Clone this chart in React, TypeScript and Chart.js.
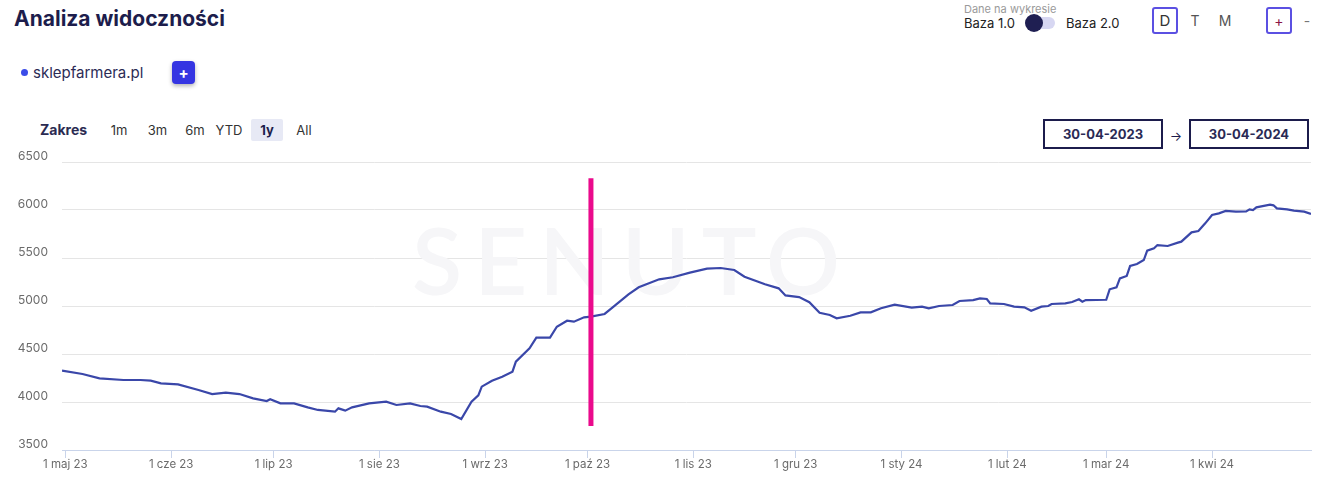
import React, { useEffect, useRef } from "react";
import { Chart, registerables } from "chart.js";

Chart.register(...registerables);

// Day index counted from 30-04-2023 (day 0) to 30-04-2024 (day 366)
const DAYS = [
  0, 6, 11, 18, 23, 26, 29, 34, 40, 44, 48, 52, 56, 60, 61, 64, 68, 72, 75, 80, 81, 83, 85, 90, 95, 98, 102, 105, 107, 111, 114, 117,
  120, 122, 123, 126, 129, 132, 133, 137, 139, 143, 145, 148, 150, 153, 155, 159, 161, 166, 169, 172, 175, 179, 184, 189, 193, 197,
  200, 206, 210, 212, 216, 219, 222, 225, 227, 231, 234, 237, 240, 244, 249, 252, 254, 257, 261, 263, 267, 269, 271, 272, 276, 279,
  282, 284, 287, 289, 290, 294, 296, 298, 299, 300, 306, 307, 309, 310, 312, 313, 315, 317, 318, 320, 321, 324, 327, 328, 331, 333,
  335, 337, 339, 341, 344, 347, 348, 349, 350, 354, 355, 356, 359, 361, 364, 366,
];
const VISIBILITY = [
  4326, 4292, 4247, 4229, 4229, 4222, 4194, 4184, 4125, 4083, 4097, 4083, 4038, 4010, 4028, 3986, 3986, 3944, 3917, 3899, 3934, 3910,
  3944, 3986, 4003, 3969, 3986, 3958, 3951, 3899, 3875, 3823,
  4003, 4070, 4160, 4222, 4264, 4316, 4420, 4559, 4670, 4670, 4784, 4847, 4837, 4882, 4889, 4917, 4976, 5122, 5195, 5236, 5278, 5299,
  5347, 5389, 5396, 5375,
  5305, 5226, 5184, 5110, 5093, 5040, 4930, 4906, 4872, 4898, 4934, 4934, 4976, 5014, 4983, 4993, 4976, 5000, 5010, 5052, 5062, 5080,
  5073, 5028, 5021, 4993,
  4986, 4951, 4993, 5000, 5021, 5028, 5042, 5070, 5045, 5062, 5065, 5174, 5195, 5288, 5313, 5417, 5438, 5479, 5576, 5601, 5635, 5625,
  5660, 5670, 5767, 5781,
  5861, 5948, 5965, 5990, 5983, 5986, 6007, 6000, 6028, 6056, 6049, 6017, 6007, 5993, 5983, 5958,
];

const MONTH_TICK_DAYS = [1, 32, 62, 93, 124, 154, 185, 215, 246, 277, 306, 337];
const MONTH_TICK_LABELS = [
  "1 maj 23", "1 cze 23", "1 lip 23", "1 sie 23", "1 wrz 23", "1 paź 23",
  "1 lis 23", "1 gru 23", "1 sty 24", "1 lut 24", "1 mar 24", "1 kwi 24",
];
const Y_MIN = 3500;
const Y_MAX = 6500;
const Y_STEP = 500;
const X_MAX = 366;

const MARKER_DAY = 155;
const MARKER_TOP = 6330;
const MARKER_BOTTOM = 3750;

const RANGE_OPTIONS = ["1m", "3m", "6m", "YTD", "1y", "All"];
const DATE_FROM = "30-04-2023";
const DATE_TO = "30-04-2024";
const DOMAIN = "sklepfarmera.pl";

const UI_FONT = "Inter, 'Open Sans', sans-serif";

const watermarkPlugin = {
  id: "watermark",
  beforeDatasetsDraw(chart: any) {
    const { ctx } = chart;
    ctx.save();
    ctx.fillStyle = "#f6f6f8";
    ctx.font = "600 92px Lato, Inter, sans-serif";
    ctx.textAlign = "center";
    ctx.textBaseline = "alphabetic";
    try {
      (ctx as any).letterSpacing = "12px";
    } catch (e) {}
    ctx.fillText("SENUTO", 632, 155);
    ctx.restore();
  },
};

const markerPlugin = {
  id: "marker",
  afterDatasetsDraw(chart: any) {
    const { ctx, scales } = chart;
    const x = scales.x.getPixelForValue(MARKER_DAY);
    const y1 = scales.y.getPixelForValue(MARKER_TOP);
    const y2 = scales.y.getPixelForValue(MARKER_BOTTOM);
    ctx.save();
    ctx.strokeStyle = "#ea0a8c";
    ctx.lineWidth = 5;
    ctx.beginPath();
    ctx.moveTo(x, y1);
    ctx.lineTo(x, y2);
    ctx.stroke();
    ctx.restore();
  },
};

function VisibilityChart() {
  const ref = useRef<HTMLCanvasElement | null>(null);
  useEffect(() => {
    if (!ref.current) return;
    const chart = new Chart(ref.current, {
      type: "line",
      data: {
        datasets: [
          {
            label: DOMAIN,
            data: DAYS.map((d, i) => ({ x: d, y: VISIBILITY[i] })),
            borderColor: "#3a47a9",
            borderWidth: 2.2,
            pointRadius: 0,
            tension: 0,
            fill: false,
          },
        ],
      },
      options: {
        animation: false,
        responsive: false,
        maintainAspectRatio: false,
        layout: { padding: { top: 22, right: 30, left: 0, bottom: 0 } },
        plugins: { legend: { display: false }, tooltip: { enabled: false } },
        scales: {
          x: {
            type: "linear",
            min: 0,
            max: X_MAX,
            afterBuildTicks(axis: any) {
              axis.ticks = MONTH_TICK_DAYS.map((v) => ({ value: v }));
            },
            afterFit(axis: any) {
              axis.height = 29;
            },
            ticks: {
              autoSkip: false,
              maxRotation: 0,
              padding: 0,
              color: "#6b6b6b",
              font: { family: UI_FONT, size: 11.5 },
              callback: (v: any) => {
                const idx = MONTH_TICK_DAYS.indexOf(Number(v));
                return idx >= 0 ? MONTH_TICK_LABELS[idx] : "";
              },
            },
            grid: {
              display: true,
              drawOnChartArea: false,
              drawTicks: true,
              tickLength: 8,
              color: "#c9d4ea",
            },
            border: { display: true, color: "#c9d4ea", width: 1 },
          },
          y: {
            min: Y_MIN,
            max: Y_MAX,
            afterFit(axis: any) {
              axis.width = 62;
            },
            ticks: {
              stepSize: Y_STEP,
              padding: 14,
              labelOffset: -6,
              color: "#6b6b6b",
              font: { family: UI_FONT, size: 12 },
              callback: (v: any) => String(v),
            },
            grid: { color: "#e5e5e5", drawTicks: false },
            border: { display: false },
          },
        },
      },
      plugins: [watermarkPlugin, markerPlugin],
    });
    return () => chart.destroy();
  }, []);
  return (
    <canvas
      ref={ref}
      width={1341}
      height={339}
      style={{ position: "absolute", left: 0, top: 140, width: 1341, height: 339 }}
    />
  );
}

const abs = (s: React.CSSProperties): React.CSSProperties => ({ position: "absolute", ...s });

export default function App() {
  useEffect(() => {
    document.body.style.margin = "0";
  }, []);
  return (
    <div
      style={{
        position: "relative",
        width: 1341,
        height: 479,
        background: "#fff",
        overflow: "hidden",
        fontFamily: UI_FONT,
      }}
    >
      <div style={abs({ left: 14, top: 6, fontSize: 21, fontWeight: 700, color: "#1d1d4c", lineHeight: "26px" })}>
        Analiza widoczności
      </div>

      {/* legend */}
      <div style={abs({ left: 21, top: 69, width: 7, height: 7, borderRadius: 4, background: "#3b4ce8" })} />
      <div style={abs({ left: 33, top: 63, fontSize: 15, color: "#2b2b55", lineHeight: "20px" })}>{DOMAIN}</div>
      <div
        style={abs({
          left: 172,
          top: 61,
          width: 23,
          height: 23,
          borderRadius: 4,
          background: "#3535e2",
          boxShadow: "0 2px 4px rgba(0,0,0,0.3)",
          color: "#fff",
          fontSize: 15,
          fontWeight: 700,
          lineHeight: "23px",
          textAlign: "center",
        })}
      >
        +
      </div>

      {/* top right controls */}
      <div style={abs({ left: 964, top: 2, fontSize: 11, color: "#9a9a9a", lineHeight: "14px" })}>Dane na wykresie</div>
      <div style={abs({ left: 964, top: 15, fontSize: 13, color: "#222", lineHeight: "17px" })}>Baza 1.0</div>
      <div style={abs({ left: 1030, top: 17, width: 25, height: 12, borderRadius: 6, background: "#d7d7f2" })} />
      <div style={abs({ left: 1025, top: 14, width: 18, height: 18, borderRadius: 9, background: "#1f1f52" })} />
      <div style={abs({ left: 1066, top: 15, fontSize: 13, color: "#222", lineHeight: "17px" })}>Baza 2.0</div>

      <div
        style={abs({
          left: 1152,
          top: 7,
          width: 22,
          height: 23,
          border: "2px solid #5b50e2",
          borderRadius: 3,
          fontSize: 15,
          color: "#333",
          lineHeight: "23px",
          textAlign: "center",
        })}
      >
        D
      </div>
      <div style={abs({ left: 1185, top: 9, width: 20, fontSize: 14, color: "#555", lineHeight: "23px", textAlign: "center" })}>T</div>
      <div style={abs({ left: 1215, top: 9, width: 20, fontSize: 14, color: "#555", lineHeight: "23px", textAlign: "center" })}>M</div>
      <div
        style={abs({
          left: 1266,
          top: 7,
          width: 22,
          height: 23,
          border: "2px solid #5b50e2",
          borderRadius: 3,
          fontSize: 14,
          color: "#8b1545",
          lineHeight: "23px",
          textAlign: "center",
        })}
      >
        +
      </div>
      <div style={abs({ left: 1300, top: 9, width: 14, fontSize: 14, color: "#777", lineHeight: "23px", textAlign: "center" })}>-</div>

      {/* range */}
      <div style={abs({ left: 40, top: 120, fontSize: 14, fontWeight: 700, color: "#2b2b52", lineHeight: "20px" })}>Zakres</div>
      {RANGE_OPTIONS.map((r, i) => {
        const centers = [119, 157.5, 195, 229, 267, 304];
        const active = r === "1y";
        return (
          <div
            key={r}
            style={abs({
              left: centers[i] - 16,
              top: 119,
              width: 32,
              height: 22,
              lineHeight: "22px",
              textAlign: "center",
              fontSize: 13,
              fontWeight: active ? 700 : 400,
              color: active ? "#1d1d4c" : "#333",
              background: active ? "#e7e9f5" : "transparent",
              borderRadius: 2,
            })}
          >
            {r}
          </div>
        );
      })}

      {/* dates */}
      {[DATE_FROM, DATE_TO].map((d, i) => (
        <div
          key={d}
          style={abs({
            left: i === 0 ? 1043 : 1189,
            top: 119,
            width: 116,
            height: 26,
            border: "2px solid #1c1c4c",
            fontSize: 13,
            fontWeight: 700,
            color: "#2a2a55",
            lineHeight: "26px",
            textAlign: "center",
          })}
        >
          {d}
        </div>
      ))}
      <div style={abs({ left: 1166, top: 126, width: 20, fontSize: 13, color: "#1c1c4c", lineHeight: "20px", textAlign: "center" })}>→</div>

      <VisibilityChart />
    </div>
  );
}
